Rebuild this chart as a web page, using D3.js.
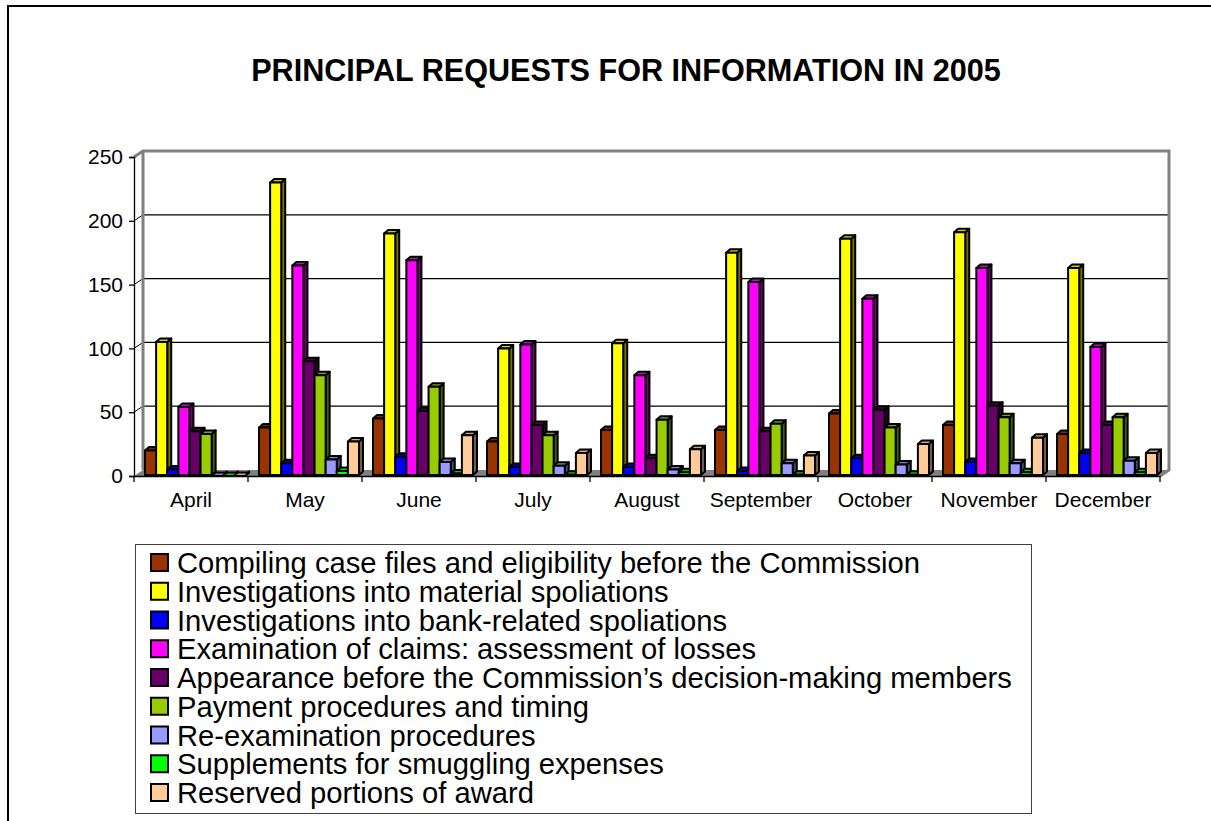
<!DOCTYPE html>
<html>
<head>
<meta charset="utf-8">
<script src="https://cdn.jsdelivr.net/npm/d3@7"></script>
<style>
    html, body { margin: 0; padding: 0; background: #fff; }
    svg { display: block; font-family: "Liberation Sans", Arial, sans-serif; }
</style>
</head>
<body>
<div id="chart"></div>
<script>
// --- Data ---
const months = ["April", "May", "June", "July", "August", "September", "October", "November", "December"];

const seriesNames = [
    "Compiling case files and eligibility before the Commission",
    "Investigations into material spoliations",
    "Investigations into bank-related spoliations",
    "Examination of claims: assessment of losses",
    "Appearance before the Commission\u2019s decision-making members",
    "Payment procedures and timing",
    "Re-examination procedures",
    "Supplements for smuggling expenses",
    "Reserved portions of award"
];
const seriesColors = ["#993300", "#ffff00", "#0000ff", "#ff00ff", "#660066", "#99cc00", "#9999ff", "#00ff00", "#ffcc99"];

const compiling  = [20, 38, 45, 27, 36, 36, 49, 40, 33];
const material   = [105, 230, 190, 100, 104, 175, 186, 191, 163];
const bank       = [5, 10, 15, 7, 7, 4, 14, 11, 18];
const claims     = [54, 165, 169, 103, 79, 152, 139, 163, 101];
const appearance = [35, 90, 51, 40, 14, 35, 52, 55, 40];
const payment    = [33, 79, 70, 32, 44, 41, 38, 46, 46];
const reexam     = [0, 13, 11, 8, 5, 10, 9, 10, 12];
const smuggling  = [0, 4, 2, 1, 3, 1, 1, 3, 3];
const reserved   = [0, 27, 32, 18, 21, 16, 25, 30, 18];
const seriesValues = [compiling, material, bank, claims, appearance, payment, reexam, smuggling, reserved];

const yTicks = [0, 50, 100, 150, 200, 250];

// --- Layout ---
const W = 1211, H = 821;
const plot = { left: 134, right: 1160, bottom: 476, top: 157 };
const DX = 9, DY = -6;          // wall depth
const BX = 4, BY = -3.5;        // bar depth

const svg = d3.select("#chart").append("svg")
    .attr("width", W).attr("height", H);

// outer frame
svg.append("rect")
    .attr("x", 8).attr("y", 6).attr("width", W + 20).attr("height", H + 20)
    .attr("fill", "none").attr("stroke", "#000").attr("stroke-width", 2);

// title
svg.append("text")
    .attr("x", 626).attr("y", 81)
    .attr("text-anchor", "middle")
    .attr("font-size", 30.6).attr("font-weight", "bold")
    .text("PRINCIPAL REQUESTS FOR INFORMATION IN 2005");

// --- Scales ---
const x = d3.scaleBand().domain(months).range([plot.left, plot.right]);
const xInner = d3.scaleBand().domain(d3.range(seriesNames.length)).range([11, 111]);
const y = d3.scaleLinear().domain([0, 250]).range([plot.bottom, plot.top]);

// --- Walls and floor ---
const walls = svg.append("g");
walls.append("polygon")
    .attr("points", [
        [plot.left, plot.bottom], [plot.right, plot.bottom],
        [plot.right + DX, plot.bottom + DY], [plot.left + DX, plot.bottom + DY]
    ].join(" "))
    .attr("fill", "#808080");

// gridlines on back wall
yTicks.filter(v => v > 0 && v < 250).forEach(v => {
    walls.append("line")
        .attr("x1", plot.left).attr("y1", y(v))
        .attr("x2", plot.left + DX).attr("y2", y(v) + DY)
        .attr("stroke", "#000").attr("stroke-width", 1);
    walls.append("line")
        .attr("x1", plot.left + DX).attr("y1", y(v) + DY)
        .attr("x2", plot.right + DX).attr("y2", y(v) + DY)
        .attr("stroke", "#000").attr("stroke-width", 1.2);
});

// wall edges
walls.append("path")
    .attr("d", `M${plot.left},${y(250)} L${plot.left + DX},${y(250) + DY}
                L${plot.right + DX},${y(250) + DY} L${plot.right + DX},${plot.bottom + DY}
                L${plot.right},${plot.bottom}
                M${plot.left + DX},${y(250) + DY} L${plot.left + DX},${plot.bottom + DY}`)
    .attr("fill", "none").attr("stroke", "#808080").attr("stroke-width", 3);

// --- Bars ---
const barsG = svg.append("g");
const bw = xInner.bandwidth();

months.forEach((m, mi) => {
    seriesValues.forEach((vals, si) => {
        const v = vals[mi];
        const x0 = x(m) + xInner(si);
        const x1 = x0 + bw;
        const yt = y(v);
        const yb = y(0) - 1;
        const col = seriesColors[si];
        const g = barsG.append("g")
            .attr("stroke", "#000").attr("stroke-width", 2).attr("stroke-linejoin", "round");
        // side
        g.append("polygon")
            .attr("points", [[x1, yt], [x1 + BX, yt + BY], [x1 + BX, yb + BY], [x1, yb]].join(" "))
            .attr("fill", d3.color(col).darker(2.2));
        // top
        g.append("polygon")
            .attr("points", [[x0, yt], [x0 + BX, yt + BY], [x1 + BX, yt + BY], [x1, yt]].join(" "))
            .attr("fill", d3.color(col).darker(0.6));
        // front
        g.append("rect")
            .attr("x", x0).attr("y", yt)
            .attr("width", bw).attr("height", Math.max(0, yb - yt))
            .attr("fill", col);
    });
});

// --- Axes ---
const yAxis = d3.axisLeft(y).tickValues(yTicks).tickSize(5).tickPadding(6);
const yAxisG = svg.append("g")
    .attr("transform", `translate(${plot.left},0)`)
    .call(yAxis);
yAxisG.select(".domain").attr("stroke", "#000").attr("stroke-width", 1.3);
yAxisG.selectAll(".tick line").attr("stroke", "#000").attr("stroke-width", 1.3);
yAxisG.selectAll(".tick text")
    .attr("font-size", 21).attr("fill", "#000")
    .attr("font-family", "'Liberation Sans', Arial, sans-serif");

const xAxis = d3.axisBottom(x).tickSize(0).tickPadding(16);
const xAxisG = svg.append("g")
    .attr("transform", `translate(0,${plot.bottom})`)
    .call(xAxis);
xAxisG.select(".domain").attr("stroke", "#000").attr("stroke-width", 1.3);
xAxisG.selectAll(".tick text")
    .attr("font-size", 21).attr("fill", "#000")
    .attr("font-family", "'Liberation Sans', Arial, sans-serif");
// category separators
xAxisG.selectAll(".sep")
    .data(months.map(m => x(m)).concat([plot.right]))
    .enter().append("line")
    .attr("x1", d => d).attr("x2", d => d)
    .attr("y1", 0).attr("y2", 6)
    .attr("stroke", "#000").attr("stroke-width", 1.3);

// --- Legend ---
const legend = svg.append("g");
legend.append("rect")
    .attr("x", 135.5).attr("y", 544.5).attr("width", 896).attr("height", 269)
    .attr("fill", "#fff").attr("stroke", "#404040").attr("stroke-width", 1);

const rowY = d3.scaleLinear().domain([0, seriesNames.length - 1]).range([563, 793]);
seriesNames.forEach((name, i) => {
    legend.append("rect")
        .attr("x", 151).attr("y", rowY(i) - 9)
        .attr("width", 17).attr("height", 17)
        .attr("fill", seriesColors[i]).attr("stroke", "#000").attr("stroke-width", 2);
    legend.append("text")
        .attr("x", 177).attr("y", rowY(i) + 10)
        .attr("font-size", 29.2)
        .text(name);
});
</script>
</body>
</html>
